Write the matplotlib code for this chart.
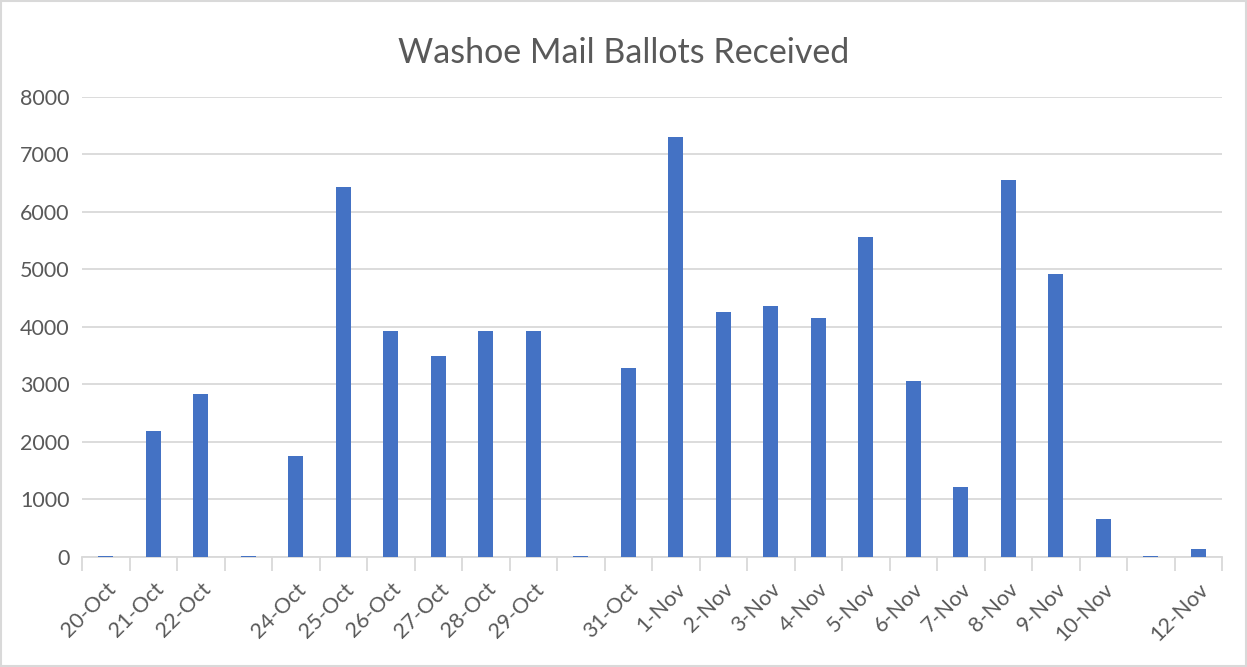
import matplotlib.pyplot as plt
import numpy as np

plt.rcParams['font.family'] = ['Lato', 'DejaVu Sans']

dates = ['20-Oct', '21-Oct', '22-Oct', '23-Oct', '24-Oct', '25-Oct', '26-Oct', '27-Oct',
         '28-Oct', '29-Oct', '30-Oct', '31-Oct', '1-Nov', '2-Nov', '3-Nov', '4-Nov',
         '5-Nov', '6-Nov', '7-Nov', '8-Nov', '9-Nov', '10-Nov', '11-Nov', '12-Nov']
# labels Excel actually printed (23-Oct, 30-Oct, 11-Nov are skipped)
tick_labels = ['20-Oct', '21-Oct', '22-Oct', '', '24-Oct', '25-Oct', '26-Oct', '27-Oct',
               '28-Oct', '29-Oct', '', '31-Oct', '1-Nov', '2-Nov', '3-Nov', '4-Nov',
               '5-Nov', '6-Nov', '7-Nov', '8-Nov', '9-Nov', '10-Nov', '', '12-Nov']
ballots = [15, 2190, 2835, 15, 1757, 6435, 3930, 3496, 3930, 3930, 15, 3287,
           7304, 4261, 4365, 4157, 5565, 3061, 1217, 6557, 4922, 661, 15, 139]

grey = '#d9d9d9'
text_grey = '#595959'

fig = plt.figure(figsize=(12.47, 6.67), dpi=100)
ax = fig.add_axes([0.0658, 0.165, 0.9142, 0.6896])

x = np.arange(len(dates))
ax.bar(x, ballots, width=0.32, color='#4472c4', zorder=3)

ax.set_xlim(-0.5, len(dates) - 0.5)
ax.set_ylim(0, 8000)
ax.set_yticks(np.arange(0, 8001, 1000))
ax.yaxis.grid(True, color=grey, linewidth=1.3, zorder=0)
ax.tick_params(axis='y', length=0, pad=9, labelsize=15.5, labelcolor=text_grey)

ax.set_xticks(x)
ax.set_xticklabels(tick_labels, rotation=45, ha='right', rotation_mode='anchor',
                   fontsize=15.5, color=text_grey)
ax.tick_params(axis='x', which='major', length=0, pad=16)
ax.set_xticks(np.arange(-0.5, len(dates), 1), minor=True)
ax.tick_params(axis='x', which='minor', length=10, width=1.3, color=grey)

for s in ['top', 'right', 'left']:
    ax.spines[s].set_visible(False)
ax.spines['bottom'].set_color(grey)
ax.spines['bottom'].set_linewidth(1.3)

fig.suptitle('Washoe Mail Ballots Received', y=0.945, fontsize=24.5, color=text_grey)

fig.patches.append(plt.Rectangle((0.001, 0.001), 0.998, 0.997, transform=fig.transFigure,
                                 fill=False, edgecolor=grey, linewidth=1.5))

fig.savefig('out.png', dpi=100)
